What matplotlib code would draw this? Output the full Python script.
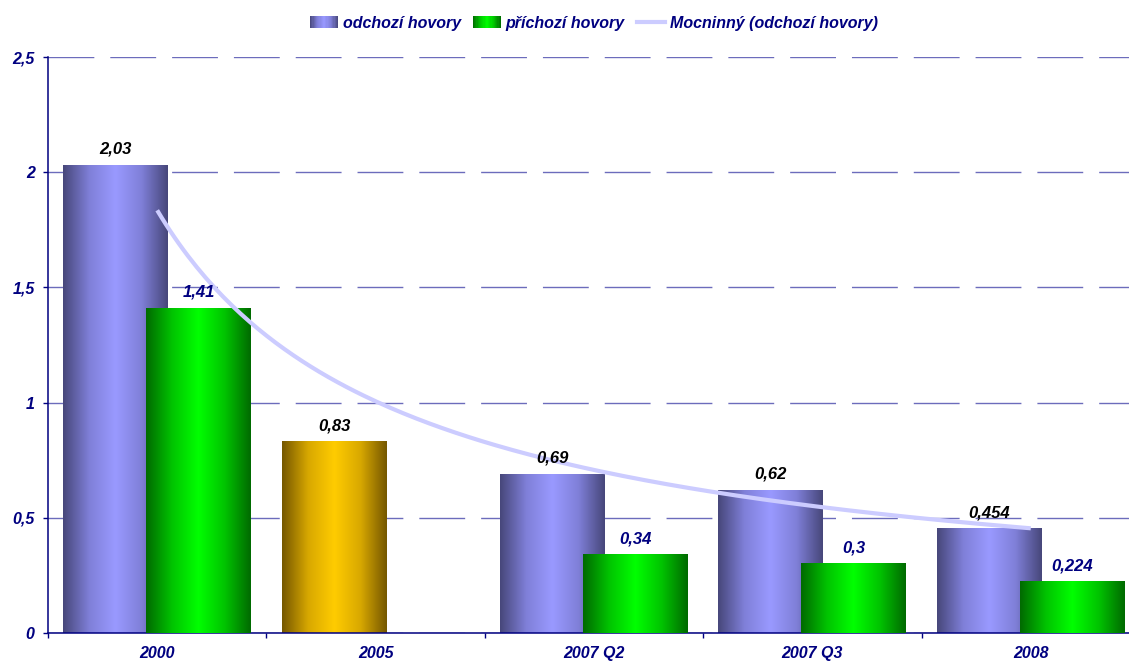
import numpy as np
import matplotlib
matplotlib.use("Agg")
import matplotlib.pyplot as plt
from matplotlib.colors import LinearSegmentedColormap
from matplotlib.patches import Rectangle
from matplotlib.lines import Line2D
from matplotlib.legend_handler import HandlerBase

# Data
categories = ["2000", "2005", "2007 Q2", "2007 Q3", "2008"]
odchozi = [2.03, 0.83, 0.69, 0.62, 0.454]
prichozi = [1.41, np.nan, 0.34, 0.3, 0.224]
odchozi_labels = ["2,03", "0,83", "0,69", "0,62", "0,454"]
prichozi_labels = ["1,41", "", "0,34", "0,3", "0,224"]
yticks = [0, 0.5, 1, 1.5, 2, 2.5]
ytick_labels = ["0", "0,5", "1", "1,5", "2", "2,5"]
series_names = ["odchozí hovory", "příchozí hovory", "Mocninný (odchozí hovory)"]

NAVY = "#000080"
plt.rcParams["font.family"] = ["Liberation Sans", "DejaVu Sans"]
FONT = dict(fontweight="bold", fontstyle="italic")

cm_blue = LinearSegmentedColormap.from_list("blue", ["#47477a", "#7f7fd8", "#9999ff", "#7f7fd8", "#47477a"])
cm_green = LinearSegmentedColormap.from_list("green", ["#006a00", "#00c400", "#00ff00", "#00c400", "#006a00"])
cm_gold = LinearSegmentedColormap.from_list("gold", ["#755700", "#d8a800", "#ffcc00", "#d8a800", "#755700"])
odchozi_cmaps = [cm_blue, cm_gold, cm_blue, cm_blue, cm_blue]

W, H = 1129, 662
fig = plt.figure(figsize=(W / 100, H / 100), dpi=100)
ax = fig.add_axes([48 / W, 29 / H, 1092 / W, 576 / H])

x = np.arange(len(categories))
bw = 0.48
off = 0.19

grad = np.linspace(0, 1, 256).reshape(1, -1)


def gradient_bars(xpos, heights, cmaps, z):
    bars = ax.bar(xpos, np.nan_to_num(heights), width=bw, color="none", zorder=z)
    for rect, h, cm in zip(bars, heights, cmaps):
        if np.isnan(h):
            continue
        x0, w = rect.get_x(), rect.get_width()
        ax.imshow(grad, cmap=cm, extent=[x0, x0 + w, 0, h], aspect="auto",
                  zorder=z, interpolation="bilinear")
    return bars


gradient_bars(x - off, np.array(odchozi), odchozi_cmaps, 2)
gradient_bars(x + off, np.array(prichozi), [cm_green] * len(x), 3)

# value labels
for xi, v, t in zip(x - off, odchozi, odchozi_labels):
    ax.annotate(t, (xi, v), xytext=(0, 6), textcoords="offset points",
                ha="center", va="bottom", color="black", fontsize=12, zorder=6, **FONT)
for xi, v, t in zip(x + off, prichozi, prichozi_labels):
    if np.isnan(v):
        continue
    ax.annotate(t, (xi, v), xytext=(0, 6), textcoords="offset points",
                ha="center", va="bottom", color=NAVY, fontsize=12, zorder=6, **FONT)

# power trendline fitted to outgoing calls
xs = np.arange(1, len(odchozi) + 1)
b, ln_a = np.polyfit(np.log(xs), np.log(odchozi), 1)
xt = np.linspace(1, len(odchozi), 200)
yt = np.exp(ln_a) * xt ** b
ax.plot(xt - 1, yt, color="#ccccff", lw=3, zorder=5, solid_capstyle="butt")

ax.set_xlim(-0.5, len(categories) - 0.5)
ax.set_ylim(0, 2.5)

# axes styling
for s in ["top", "right"]:
    ax.spines[s].set_visible(False)
for s in ["left", "bottom"]:
    ax.spines[s].set_color(NAVY)
    ax.spines[s].set_linewidth(1.1)

ax.set_yticks(yticks)
ax.set_yticklabels(ytick_labels, color=NAVY, fontsize=11.5, **FONT)
ax.tick_params(axis="y", direction="out", length=3.6, width=1, color=NAVY, pad=6)

ax.set_xticks(x)
ax.set_xticklabels(categories, color=NAVY, fontsize=11.5, **FONT)
ax.set_xticks(np.arange(-0.5, len(categories)), minor=True)
ax.tick_params(axis="x", which="major", length=0, pad=9.5)
ax.tick_params(axis="x", which="minor", direction="out", length=3.6, width=1, color=NAVY)

ax.set_axisbelow(True)
ax.yaxis.grid(True, color="#6c6cbc", lw=1.0, dashes=(33, 11.5))
ax.xaxis.grid(False)


class GradientHandler(HandlerBase):
    def __init__(self, cmap):
        super().__init__()
        self.cmap = cmap

    def create_artists(self, legend, orig_handle, xdescent, ydescent,
                       width, height, fontsize, trans):
        n = 24
        arts = []
        for i in range(n):
            r = Rectangle((-xdescent + i * width / n, -ydescent), width / n * 1.05, height,
                          facecolor=self.cmap((i + 0.5) / n), lw=0, transform=trans)
            arts.append(r)
        return arts


h_blue = Rectangle((0, 0), 1, 1)
h_green = Rectangle((0, 0), 1, 1)
h_line = Line2D([], [], color="#ccccff", lw=3)
leg = fig.legend([h_blue, h_green, h_line], series_names, loc="upper center",
                 bbox_to_anchor=(0.526, 0.998), ncol=3, frameon=False,
                 handlelength=1.75, handleheight=0.75, handletextpad=0.3, columnspacing=0.75,
                 prop=dict(family=["Liberation Sans", "DejaVu Sans"], weight="bold",
                           style="italic", size=11.5),
                 handler_map={h_blue: GradientHandler(cm_blue),
                              h_green: GradientHandler(cm_green)})
for t in leg.get_texts():
    t.set_color(NAVY)

fig.savefig("out.png", dpi=100)
